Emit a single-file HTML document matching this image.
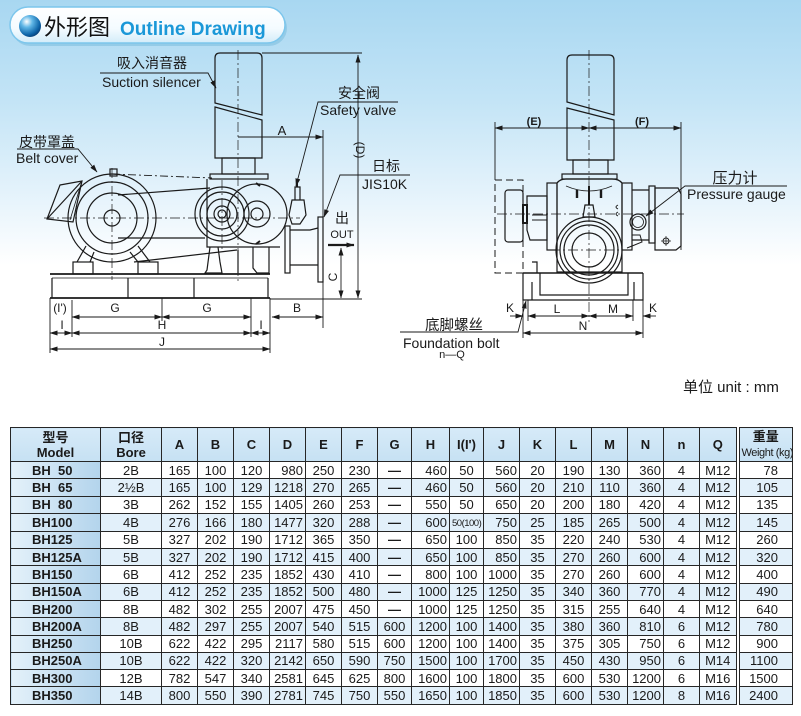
<!DOCTYPE html>
<html><head><meta charset="utf-8">
<style>
html,body{margin:0;padding:0;}
body{width:801px;height:716px;position:relative;overflow:hidden;
background:linear-gradient(to bottom,#a8d7f1 0px,#c3e4f6 100px,#e3f2fb 190px,#ffffff 265px,#ffffff 716px);
font-family:"Liberation Sans","Noto Sans CJK SC",sans-serif;}
svg{position:absolute;left:0;top:0;}
table{position:absolute;left:10px;top:427px;width:782px;border-collapse:collapse;table-layout:fixed;color:#1a1a1a;}
td,th{border:1px solid #262626;padding:0 2px;font-size:13px;line-height:15px;text-align:center;white-space:nowrap;overflow:hidden;}
th{background:linear-gradient(to bottom,#d6eaf8,#c6e1f3);font-weight:bold;height:33px;}
tr.r{height:17.29px;}
tr.b td{background:#e2f0fa;}
td.m{text-align:left;padding-left:21px;font-weight:bold;background:linear-gradient(to right,#e4f1fa,#b3d4ec)!important;}
td.rt{text-align:right;padding-right:2px;}
td.w{text-align:right;padding-right:14px;border-left:4px double #262626;}
th.w{border-left:4px double #262626;}
.dash{font-weight:bold;}
.sm{font-size:9.5px;letter-spacing:-0.5px;}
</style></head><body>
<svg width="801" height="420" viewBox="0 0 801 420" xmlns="http://www.w3.org/2000/svg">
<defs>
<marker id="ar" markerWidth="8" markerHeight="6" refX="7.5" refY="3" orient="auto-start-reverse" markerUnits="userSpaceOnUse"><path d="M0,0.5 L8,3 L0,5.5 Z" fill="#1a1a1a"/></marker>
<radialGradient id="sph" cx="0.35" cy="0.3" r="0.75"><stop offset="0" stop-color="#ffffff"/><stop offset="0.35" stop-color="#5fb6e6"/><stop offset="0.8" stop-color="#0d64a8"/><stop offset="1" stop-color="#083f75"/></radialGradient>
<linearGradient id="pill" x1="0" y1="0" x2="0" y2="1"><stop offset="0" stop-color="#ffffff"/><stop offset="0.6" stop-color="#f4fbff"/><stop offset="1" stop-color="#d3ecf9"/></linearGradient>
</defs>
<!-- header pill -->
<rect x="12" y="10" width="275" height="36" rx="18" fill="#7fbfe0" opacity="0.6"/>
<rect x="10" y="7" width="275" height="36" rx="18" fill="url(#pill)" stroke="#7cc6ec" stroke-width="1.5"/>
<circle cx="30" cy="26" r="11" fill="url(#sph)"/>
<text x="44" y="35" font-size="22" fill="#111" font-family="Noto Sans CJK SC, sans-serif">外形图</text>
<text x="120" y="35" font-size="19" font-weight="bold" fill="#1b98d8">Outline Drawing</text>

<g stroke="#1a1a1a" fill="none" stroke-width="1.2">
<!-- ============ LEFT VIEW ============ -->
<!-- silencer -->
<path d="M215,103 L215,58 Q215,53 220,53 L257,53 Q262,53 262,58 L262,115 Z"/>
<path d="M215,107 L262,120 L262,158 L215,158 Z"/>
<rect x="222" y="158" width="33" height="16"/>
<rect x="210" y="174" width="58" height="5"/>
<!-- blower casing -->
<path d="M207,179 L207,247 L280,247"/>
<circle cx="257" cy="214" r="30"/>
<circle cx="257" cy="214" r="13"/>
<circle cx="257" cy="214" r="6"/>
<path d="M256,183 L260,186 M256,244 L260,241" stroke-width="2"/>
<!-- pulley -->
<circle cx="222" cy="214" r="27"/>
<circle cx="222" cy="214" r="22"/>
<circle cx="222" cy="214" r="15"/>
<circle cx="222" cy="214" r="8"/>
<circle cx="222" cy="214" r="4"/>
<!-- blower feet -->
<path d="M210,247 L207,270 L205,273 L222,273 L220,262 L218,247"/>
<path d="M253,247 L253,268 L257,273 L269,273 L269,247"/>
<path d="M238,250 L238,273"/>
<!-- motor -->
<circle cx="112" cy="218" r="44"/>
<circle cx="112" cy="218" r="36"/>
<circle cx="112" cy="218" r="25"/>
<circle cx="112" cy="218" r="8"/>
<rect x="110" y="169" width="7" height="7"/>
<!-- fan cover -->
<path d="M60,185 L82,181 L73,222 L47,219 Z"/>
<path d="M82,181 L47,219"/>
<path d="M82,181 L70,220" stroke-width="0.8"/>
<!-- motor legs/feet -->
<path d="M86,246 L77,262 M94,252 L90,262 M138,246 L150,262 M130,252 L138,262"/>
<rect x="73" y="262" width="20" height="12"/>
<rect x="138" y="262" width="20" height="12"/>
<!-- belts -->
<path d="M118,195 L210,188"/>
<path d="M118,238 L205,238"/>
<path d="M112,174 L212,178" stroke-dasharray="8,3,2,3" stroke-width="0.9"/>
<path d="M134,262 L237,250"/>
<!-- outlet -->
<rect x="285" y="226" width="5" height="47"/>
<path d="M290,230 L310,230 L318,228 M290,265 L318,265"/>
<rect x="318" y="217" width="5" height="65"/>
<!-- safety valve -->
<path d="M292,200 L304,200 L306,215 L300,224 L292,224 L289,215 Z"/>
<path d="M295,200 L295,187 L300,187 L300,200" />
<path d="M297,187 L297,180" stroke-width="2"/>
<!-- base -->
<path d="M50,274 L270,274" stroke-width="1.8"/>
<path d="M52,278 L268,278" stroke-width="0.8"/>
<path d="M50,298 L270,298" stroke-width="1.8"/>
<path d="M52,278 L52,298 M268,278 L268,298 M128,278 L128,298 M194,278 L194,298"/>
<!-- centerlines -->
<g stroke-width="0.7" stroke-dasharray="10,3,2,3">
<path d="M238,50 L238,282"/>
<path d="M112,168 L112,280"/>
<path d="M44,218 L300,218"/>
<path d="M222,180 L222,250"/>
</g>
<!-- dimensions left -->
<g stroke-width="0.9">
<path d="M262,53 L362,53"/>
<path d="M358,55 L358,298" marker-start="url(#ar)" marker-end="url(#ar)"/>
<path d="M270,299 L362,299"/>
<path d="M238,137 L323,137" marker-end="url(#ar)"/>
<path d="M323,130 L323,328"/>
<path d="M341,248 L341,298" marker-start="url(#ar)" marker-end="url(#ar)"/>
<path d="M50,298 L50,353 M72,300 L72,337 M162,298 L162,321 M251,298 L251,337 M270,298 L270,353"/>
<path d="M72,317 L162,317" marker-start="url(#ar)" marker-end="url(#ar)"/>
<path d="M162,317 L251,317" marker-start="url(#ar)" marker-end="url(#ar)"/>
<path d="M272,317 L323,317" marker-start="url(#ar)" marker-end="url(#ar)"/>
<path d="M50,333 L72,333" marker-start="url(#ar)" marker-end="url(#ar)"/>
<path d="M72,333 L251,333" marker-start="url(#ar)" marker-end="url(#ar)"/>
<path d="M251,333 L270,333" marker-start="url(#ar)" marker-end="url(#ar)"/>
<path d="M50,349 L270,349" marker-start="url(#ar)" marker-end="url(#ar)"/>
<!-- leaders -->
<path d="M100,73 L208,73 L216,88" marker-end="url(#ar)"/>
<path d="M17,149 L78,149 L97,172" marker-end="url(#ar)"/>
<path d="M398,102 L318,102 L296,186" marker-end="url(#ar)"/>
<path d="M410,175 L340,175 L324,217" marker-end="url(#ar)"/>
</g>
<path d="M328,245 L354,245" stroke-width="2.2" marker-end="url(#ar)"/>

<!-- ============ RIGHT VIEW ============ -->
<path d="M567,102 L567,60 Q567,55 572,55 L609,55 Q614,55 614,60 L614,115 Z"/>
<path d="M567,108 L614,120 L614,160 L567,160 Z"/>
<rect x="573" y="160" width="35" height="14"/>
<rect x="562" y="174" width="55" height="5"/>
<!-- casing -->
<path d="M557,183 Q560,179 566,179 L612,179 Q619,179 622,183 L622,272 L557,272 Z"/>
<path d="M566,186 Q589,196 612,186" stroke-width="0.8"/>
<rect x="547" y="183" width="10" height="67"/>
<rect x="622" y="183" width="10" height="67"/>
<path d="M577,190 L577,198 M601,190 L601,198" stroke-width="2.4"/>
<path d="M585,205 L593,205 L595,217 L583,217 Z"/>
<path d="M589,186 L589,205" stroke-width="2"/>
<circle cx="589" cy="250" r="33"/>
<circle cx="589" cy="250" r="29"/>
<circle cx="589" cy="250" r="25"/>
<circle cx="589" cy="250" r="17"/>
<path d="M618,205 Q614,207 618,209 M618,212 Q614,214 618,216" stroke-width="0.9"/>
<!-- left motor side -->
<rect x="495" y="180" width="28" height="93" stroke-dasharray="7,4" stroke-width="1"/>
<rect x="505" y="190" width="18" height="52" rx="3"/>
<rect x="523" y="205" width="4" height="18" stroke-width="2"/>
<path d="M527,196 L547,196 L547,240 L530,240 L527,230 Z"/>
<path d="M532,215 L547,215 M532,220 L547,220" stroke-width="0.9"/>
<!-- right side -->
<rect x="649" y="186" width="6" height="57"/>
<path d="M632,190 L649,190 M632,240 L649,240"/>
<path d="M655,188 L678,188 L681,194 L681,246 L676,250 L655,250 Z"/>
<circle cx="638" cy="222" r="8"/>
<circle cx="638" cy="222" r="5.5" stroke-width="0.8"/>
<path d="M632,235 L640,235 L642,242 L627,248" stroke-width="1"/>
<circle cx="666" cy="241" r="3" stroke-width="0.9"/>
<path d="M666,236 L666,246 M661,241 L671,241" stroke-width="0.7"/>
<!-- base -->
<path d="M523,273 L643,273" stroke-width="1.5"/>
<path d="M523,273 L523,300 L643,300 L643,273"/>
<path d="M540,273 L540,295 L628,295 L628,273"/>
<path d="M532,262 L537,262 L537,273 M532,282 L532,300 M634,282 L634,300"/>
<!-- right centerlines -->
<g stroke-width="0.7" stroke-dasharray="10,3,2,3">
<path d="M589,50 L589,322"/>
<path d="M497,214 L684,214"/>
<path d="M550,250 L628,250"/>
</g>
<!-- right dims -->
<g stroke-width="0.9">
<path d="M495,128 L589,128" marker-start="url(#ar)" marker-end="url(#ar)"/>
<path d="M589,128 L681,128" marker-start="url(#ar)" marker-end="url(#ar)"/>
<path d="M495,122 L495,180 M681,122 L681,250"/>
<path d="M523,300 L523,338 M528,300 L528,321 M633,300 L633,321 M643,300 L643,338"/>
<path d="M528,316 L589,316" marker-start="url(#ar)" marker-end="url(#ar)"/>
<path d="M589,316 L633,316" marker-start="url(#ar)" marker-end="url(#ar)"/>
<path d="M510,316 L523,316" marker-end="url(#ar)"/>
<path d="M656,316 L643,316" marker-end="url(#ar)"/>
<path d="M523,333 L643,333" marker-start="url(#ar)" marker-end="url(#ar)"/>
<path d="M400,332 L518,332 L526,301" marker-end="url(#ar)"/>
<path d="M787,186 L685,186 L646,216" marker-end="url(#ar)"/>
</g>
</g>

<!-- labels -->
<g fill="#1a1a1a" font-family="Liberation Sans, Noto Sans CJK SC, sans-serif">
<text x="152" y="68" font-size="14" text-anchor="middle">吸入消音器</text>
<text x="102" y="87" font-size="14">Suction silencer</text>
<text x="359" y="98" font-size="14" text-anchor="middle">安全阀</text>
<text x="320" y="115" font-size="14">Safety valve</text>
<text x="386" y="171" font-size="14" text-anchor="middle">日标</text>
<text x="362" y="189" font-size="14">JIS10K</text>
<text x="47" y="147" font-size="14" text-anchor="middle">皮带罩盖</text>
<text x="16" y="163" font-size="14">Belt cover</text>
<text x="282" y="135" font-size="13" text-anchor="middle">A</text>
<text x="0" y="0" font-size="12" text-anchor="middle" transform="translate(356,150) rotate(90)">(D)</text>
<text x="0" y="0" font-size="12" text-anchor="middle" transform="translate(337,277) rotate(-90)">C</text>
<text x="342" y="223" font-size="14" text-anchor="middle">出</text>
<text x="342" y="238" font-size="11" text-anchor="middle">OUT</text>
<text x="60" y="312" font-size="12" text-anchor="middle">(I')</text>
<text x="115" y="312" font-size="12" text-anchor="middle">G</text>
<text x="207" y="312" font-size="12" text-anchor="middle">G</text>
<text x="297" y="312" font-size="12" text-anchor="middle">B</text>
<text x="62" y="329" font-size="12" text-anchor="middle">I</text>
<text x="162" y="329" font-size="12" text-anchor="middle">H</text>
<text x="261" y="329" font-size="12" text-anchor="middle">I</text>
<text x="162" y="346" font-size="12" text-anchor="middle">J</text>

<text x="534" y="125" font-size="11" font-weight="bold" text-anchor="middle">(E)</text>
<text x="642" y="125" font-size="11" font-weight="bold" text-anchor="middle">(F)</text>
<text x="510" y="312" font-size="12" text-anchor="middle">K</text>
<text x="557" y="313" font-size="12" text-anchor="middle">L</text>
<text x="613" y="313" font-size="12" text-anchor="middle">M</text>
<text x="653" y="312" font-size="12" text-anchor="middle">K</text>
<text x="583" y="330" font-size="12" text-anchor="middle">N</text>
<text x="735" y="183" font-size="15" text-anchor="middle">压力计</text>
<text x="687" y="199" font-size="14">Pressure gauge</text>
<text x="454" y="330" font-size="14.5" text-anchor="middle">底脚螺丝</text>
<text x="403" y="348" font-size="14">Foundation bolt</text>
<text x="452" y="358" font-size="11" text-anchor="middle">n—Q</text>
<text x="683" y="392" font-size="15">单位 unit : mm</text>
</g>
</svg>

<table>
<colgroup>
<col style="width:90px"><col style="width:61px">
<col style="width:36px"><col style="width:36px"><col style="width:36px"><col style="width:36px"><col style="width:36px"><col style="width:36px">
<col style="width:34px"><col style="width:38px"><col style="width:34px">
<col style="width:36px"><col style="width:36px"><col style="width:36px"><col style="width:36px"><col style="width:36px"><col style="width:36px">
<col style="width:38px"><col style="width:55px">
</colgroup>
<tr><th>型号<br>Model</th><th>口径<br>Bore</th><th>A</th><th>B</th><th>C</th><th>D</th><th>E</th><th>F</th><th>G</th><th>H</th><th>I(I')</th><th>J</th><th>K</th><th>L</th><th>M</th><th>N</th><th>n</th><th>Q</th><th class="w">重量<br><span style="font-size:11px;font-weight:normal;letter-spacing:-0.4px">Weight (kg)</span></th></tr>
<tr class="r"><td class="m">BH&nbsp;&nbsp;50</td><td>2B</td><td>165</td><td>100</td><td>120</td><td class="rt">980</td><td>250</td><td>230</td><td class="dash">—</td><td class="rt">460</td><td>50</td><td class="rt">560</td><td>20</td><td>190</td><td>130</td><td class="rt">360</td><td>4</td><td>M12</td><td class="w">78</td></tr>
<tr class="r b"><td class="m">BH&nbsp;&nbsp;65</td><td>2½B</td><td>165</td><td>100</td><td>129</td><td class="rt">1218</td><td>270</td><td>265</td><td class="dash">—</td><td class="rt">460</td><td>50</td><td class="rt">560</td><td>20</td><td>210</td><td>110</td><td class="rt">360</td><td>4</td><td>M12</td><td class="w">105</td></tr>
<tr class="r"><td class="m">BH&nbsp;&nbsp;80</td><td>3B</td><td>262</td><td>152</td><td>155</td><td class="rt">1405</td><td>260</td><td>253</td><td class="dash">—</td><td class="rt">550</td><td>50</td><td class="rt">650</td><td>20</td><td>200</td><td>180</td><td class="rt">420</td><td>4</td><td>M12</td><td class="w">135</td></tr>
<tr class="r b"><td class="m">BH100</td><td>4B</td><td>276</td><td>166</td><td>180</td><td class="rt">1477</td><td>320</td><td>288</td><td class="dash">—</td><td class="rt">600</td><td><span class="sm">50(100)</span></td><td class="rt">750</td><td>25</td><td>185</td><td>265</td><td class="rt">500</td><td>4</td><td>M12</td><td class="w">145</td></tr>
<tr class="r"><td class="m">BH125</td><td>5B</td><td>327</td><td>202</td><td>190</td><td class="rt">1712</td><td>365</td><td>350</td><td class="dash">—</td><td class="rt">650</td><td>100</td><td class="rt">850</td><td>35</td><td>220</td><td>240</td><td class="rt">530</td><td>4</td><td>M12</td><td class="w">260</td></tr>
<tr class="r b"><td class="m">BH125A</td><td>5B</td><td>327</td><td>202</td><td>190</td><td class="rt">1712</td><td>415</td><td>400</td><td class="dash">—</td><td class="rt">650</td><td>100</td><td class="rt">850</td><td>35</td><td>270</td><td>260</td><td class="rt">600</td><td>4</td><td>M12</td><td class="w">320</td></tr>
<tr class="r"><td class="m">BH150</td><td>6B</td><td>412</td><td>252</td><td>235</td><td class="rt">1852</td><td>430</td><td>410</td><td class="dash">—</td><td class="rt">800</td><td>100</td><td class="rt">1000</td><td>35</td><td>270</td><td>260</td><td class="rt">600</td><td>4</td><td>M12</td><td class="w">400</td></tr>
<tr class="r b"><td class="m">BH150A</td><td>6B</td><td>412</td><td>252</td><td>235</td><td class="rt">1852</td><td>500</td><td>480</td><td class="dash">—</td><td class="rt">1000</td><td>125</td><td class="rt">1250</td><td>35</td><td>340</td><td>360</td><td class="rt">770</td><td>4</td><td>M12</td><td class="w">490</td></tr>
<tr class="r"><td class="m">BH200</td><td>8B</td><td>482</td><td>302</td><td>255</td><td class="rt">2007</td><td>475</td><td>450</td><td class="dash">—</td><td class="rt">1000</td><td>125</td><td class="rt">1250</td><td>35</td><td>315</td><td>255</td><td class="rt">640</td><td>4</td><td>M12</td><td class="w">640</td></tr>
<tr class="r b"><td class="m">BH200A</td><td>8B</td><td>482</td><td>297</td><td>255</td><td class="rt">2007</td><td>540</td><td>515</td><td>600</td><td class="rt">1200</td><td>100</td><td class="rt">1400</td><td>35</td><td>380</td><td>360</td><td class="rt">810</td><td>6</td><td>M12</td><td class="w">780</td></tr>
<tr class="r"><td class="m">BH250</td><td>10B</td><td>622</td><td>422</td><td>295</td><td class="rt">2117</td><td>580</td><td>515</td><td>600</td><td class="rt">1200</td><td>100</td><td class="rt">1400</td><td>35</td><td>375</td><td>305</td><td class="rt">750</td><td>6</td><td>M12</td><td class="w">900</td></tr>
<tr class="r b"><td class="m">BH250A</td><td>10B</td><td>622</td><td>422</td><td>320</td><td class="rt">2142</td><td>650</td><td>590</td><td>750</td><td class="rt">1500</td><td>100</td><td class="rt">1700</td><td>35</td><td>450</td><td>430</td><td class="rt">950</td><td>6</td><td>M14</td><td class="w">1100</td></tr>
<tr class="r"><td class="m">BH300</td><td>12B</td><td>782</td><td>547</td><td>340</td><td class="rt">2581</td><td>645</td><td>625</td><td>800</td><td class="rt">1600</td><td>100</td><td class="rt">1800</td><td>35</td><td>600</td><td>530</td><td class="rt">1200</td><td>6</td><td>M16</td><td class="w">1500</td></tr>
<tr class="r b"><td class="m">BH350</td><td>14B</td><td>800</td><td>550</td><td>390</td><td class="rt">2781</td><td>745</td><td>750</td><td>550</td><td class="rt">1650</td><td>100</td><td class="rt">1850</td><td>35</td><td>600</td><td>530</td><td class="rt">1200</td><td>8</td><td>M16</td><td class="w">2400</td></tr>
</table>
</body></html>
